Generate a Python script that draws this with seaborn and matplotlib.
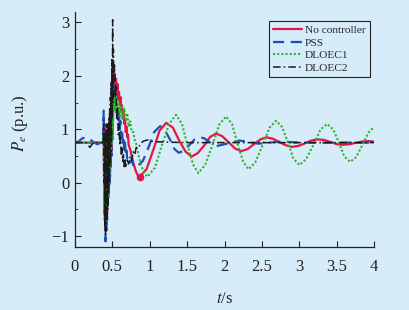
import numpy as np
import pandas as pd
import seaborn as sns
import matplotlib.pyplot as plt
from matplotlib.ticker import MultipleLocator

# ---- data (time in s, Pe in p.u.) ----
t_nc = [0, 0.38, 0.385, 0.39, 0.395, 0.40, 0.405, 0.41, 0.415, 0.42, 0.425, 0.43, 0.435, 0.44,
        0.445, 0.45, 0.455, 0.46, 0.465, 0.47, 0.475, 0.48, 0.485, 0.49, 0.495, 0.50, 0.505, 0.51,
        0.515, 0.52, 0.53, 0.54, 0.55, 0.56, 0.57, 0.58, 0.59, 0.60, 0.61, 0.62, 0.63, 0.64, 0.65,
        0.66, 0.67, 0.68, 0.69, 0.70, 0.71, 0.72, 0.74, 0.76, 0.78, 0.80, 0.82, 0.84, 0.87,
        0.96, 1.05, 1.13, 1.22, 1.31, 1.39, 1.48, 1.56, 1.64, 1.73, 1.81, 1.89, 1.97, 2.06, 2.14,
        2.22, 2.31, 2.39, 2.48, 2.56, 2.65, 2.73, 2.82, 2.90, 2.99, 3.08, 3.16, 3.25, 3.33, 3.42,
        3.50, 3.58, 3.67, 3.75, 3.84, 3.92, 4.0]
p_nc = [0.75, 0.75, 1.0, 0.1, 0.9, -0.6, 0.8, -0.9, 0.9, -0.8, 1.0, -0.6, 0.9, -0.4,
        1.0, -0.2, 1.1, 0.0, 1.2, 0.2, 1.3, 0.4, 1.5, 0.6, 1.7, 0.9, 2.0, 1.3,
        2.1, 1.8, 2.05, 1.75, 1.95, 1.65, 1.85, 1.55, 1.7, 1.45, 1.6, 1.35, 1.45, 1.2, 1.35,
        1.1, 1.2, 0.95, 1.05, 0.85, 0.9, 0.7, 0.62, 0.5, 0.38, 0.28, 0.2, 0.14, 0.11,
        0.26, 0.62, 0.97, 1.12, 1.03, 0.80, 0.58, 0.49, 0.55, 0.70, 0.86, 0.92, 0.87, 0.75, 0.64,
        0.59, 0.63, 0.72, 0.81, 0.85, 0.82, 0.76, 0.70, 0.67, 0.69, 0.74, 0.79, 0.81, 0.80, 0.76,
        0.72, 0.71, 0.72, 0.745, 0.77, 0.78, 0.77]

t_pss = [0, 0.05, 0.10, 0.15, 0.20, 0.25, 0.30, 0.35, 0.38, 0.385, 0.39, 0.395, 0.40, 0.405,
         0.41, 0.415, 0.42, 0.425, 0.43, 0.435, 0.44, 0.445, 0.45, 0.455, 0.46, 0.465, 0.47,
         0.475, 0.48, 0.485, 0.49, 0.495, 0.50, 0.505, 0.51, 0.515, 0.52, 0.53, 0.54, 0.55, 0.56,
         0.57, 0.58, 0.59, 0.60, 0.61, 0.62, 0.63, 0.64, 0.65, 0.66, 0.67, 0.68, 0.69, 0.70, 0.72,
         0.74, 0.76, 0.78, 0.80, 0.83, 0.91, 0.99, 1.06, 1.14, 1.20, 1.27, 1.33, 1.39, 1.46, 1.53,
         1.60, 1.67, 1.73, 1.79, 1.85, 1.91, 2.06, 2.20, 2.33, 2.45, 2.60, 2.75, 3.0, 3.5, 4.0]
p_pss = [0.75, 0.77, 0.83, 0.85, 0.81, 0.76, 0.72, 0.75, 0.75, 1.35, 0.3, 1.1, -0.7, 0.9,
         -1.1, 0.8, -0.9, 0.9, -0.7, 0.8, -0.5, 0.9, -0.3, 1.0, -0.1, 1.1, 0.1,
         1.2, 0.3, 1.4, 0.5, 1.6, 0.8, 1.9, 1.2, 1.85, 1.55, 1.75, 1.45, 1.6, 1.3,
         1.45, 1.15, 1.3, 1.0, 1.15, 0.85, 1.0, 0.75, 0.85, 0.6, 0.75, 0.5, 0.6, 0.45, 0.5,
         0.38, 0.42, 0.33, 0.35, 0.30, 0.41, 0.68, 0.95, 1.06, 0.99, 0.81, 0.63, 0.56, 0.60, 0.705,
         0.81, 0.85, 0.83, 0.77, 0.71, 0.69, 0.74, 0.79, 0.76, 0.73, 0.75, 0.77, 0.75, 0.75, 0.75]

t_d1 = [0, 0.38, 0.385, 0.39, 0.395, 0.40, 0.405, 0.41, 0.415, 0.42, 0.425, 0.43, 0.435, 0.44,
        0.445, 0.45, 0.455, 0.46, 0.465, 0.47, 0.475, 0.48, 0.485, 0.49, 0.495, 0.50, 0.505, 0.51,
        0.515, 0.52, 0.53, 0.54, 0.55, 0.56, 0.57, 0.58, 0.59, 0.60, 0.62, 0.64, 0.66, 0.68, 0.70,
        0.72, 0.74, 0.76, 0.78, 0.80, 0.82, 0.85, 0.88, 0.92, 0.97,
        1.07, 1.16, 1.26, 1.35, 1.43, 1.50, 1.58, 1.65, 1.74, 1.84, 1.93, 2.02, 2.10, 2.17, 2.25,
        2.32, 2.41, 2.51, 2.60, 2.69, 2.77, 2.85, 2.92, 3.00, 3.09, 3.19, 3.28, 3.37, 3.45, 3.53,
        3.60, 3.68, 3.76, 3.84, 3.92, 4.0]
p_d1 = [0.75, 0.75, 0.9, 0.2, 0.8, -0.4, 0.7, -0.7, 0.8, -0.6, 0.7, -0.5, 0.9, -0.3,
        1.0, -0.1, 1.1, 0.1, 1.2, 0.3, 1.3, 0.5, 1.4, 0.7, 1.5, 0.9, 1.6, 1.1,
        1.65, 1.35, 1.6, 1.35, 1.6, 1.35, 1.55, 1.3, 1.5, 1.25, 1.45, 1.2, 1.4, 1.15, 1.3,
        1.05, 1.15, 0.95, 0.95, 0.8, 0.72, 0.52, 0.35, 0.2, 0.11,
        0.28, 0.69, 1.10, 1.27, 1.11, 0.725, 0.34, 0.18, 0.33, 0.71, 1.09, 1.24, 1.10, 0.745, 0.39,
        0.25, 0.38, 0.705, 1.03, 1.16, 1.04, 0.745, 0.45, 0.33, 0.44, 0.715, 0.99, 1.10, 1.0, 0.745,
        0.49, 0.39, 0.48, 0.70, 0.93, 1.05]

t_d2 = [0, 0.15, 0.18, 0.20, 0.22, 0.25, 0.38, 0.385, 0.39, 0.395, 0.40, 0.405, 0.41, 0.415,
        0.42, 0.425, 0.43, 0.435, 0.44, 0.445, 0.45, 0.455, 0.46, 0.465, 0.47, 0.475, 0.48, 0.485,
        0.49, 0.495, 0.50, 0.505, 0.51, 0.515, 0.52, 0.53, 0.54, 0.55, 0.56, 0.57, 0.58, 0.59,
        0.60, 0.61, 0.62, 0.63, 0.64, 0.65, 0.66, 0.67, 0.68, 0.70, 0.72, 0.74, 0.76, 0.78, 0.80,
        0.82, 0.85, 0.88, 0.92, 0.97, 1.05, 1.2, 1.5, 2.0, 3.0, 4.0]
p_d2 = [0.75, 0.75, 0.70, 0.66, 0.70, 0.75, 0.75, 1.1, 0.0, 1.0, -0.8, 0.9, -1.0, 1.0,
        -0.9, 1.1, -0.7, 1.0, -0.5, 1.1, -0.2, 1.2, 0.0, 1.4, 0.3, 1.6, 0.5, 1.9,
        0.8, 2.3, 1.2, 3.05, 1.5, 2.5, 1.9, 2.2, 1.6, 1.8, 1.2, 1.4, 0.9, 1.1,
        0.7, 0.85, 0.5, 0.65, 0.4, 0.55, 0.3, 0.45, 0.28, 0.42, 0.35, 0.5, 0.42, 0.58, 0.52,
        0.66, 0.65, 0.74, 0.78, 0.8, 0.77, 0.76, 0.75, 0.75, 0.75, 0.75]

labels = ["No controller", "PSS", "DLOEC1", "DLOEC2"]
colors = ["#e3173f", "#1f4fb5", "#2cb52c", "#1a1a1a"]
styles = ["-", (0, (5, 3)), (0, (1, 1)), (0, (5, 2, 1, 2))]
widths = [1.6, 1.6, 1.5, 1.1]

bg = "#d6ecf8"
sns.set_theme(style="ticks", rc={"axes.facecolor": bg, "figure.facecolor": bg})
plt.rcParams["font.family"] = ["Liberation Serif", "DejaVu Serif"]
plt.rcParams["mathtext.fontset"] = "stix"

fig = plt.figure(figsize=(4.09, 3.10), dpi=100)
ax = fig.add_axes([0.183, 0.204, 0.732, 0.758])

series = [(t_nc, p_nc), (t_pss, p_pss), (t_d1, p_d1), (t_d2, p_d2)]
for (t, p), lab, c, ls, lw in zip(series, labels, colors, styles, widths):
    df = pd.DataFrame({"t": t, "p": p})
    sns.lineplot(data=df, x="t", y="p", ax=ax, color=c, linestyle=ls, linewidth=lw,
                 estimator=None, sort=False, label=lab)

# red blob at the first minimum of the no-controller curve
ax.plot(t_nc[56], p_nc[56], "o", color=colors[0], ms=4.5)

ax.set_xlim(0, 4)
ax.set_ylim(-1.2, 3.2)
ax.set_xticks([0, 0.5, 1, 1.5, 2, 2.5, 3, 3.5, 4])
ax.set_xticklabels(["0", "0.5", "1", "1.5", "2", "2.5", "3", "3.5", "4"])
ax.set_yticks([-1, 0, 1, 2, 3])
ax.set_yticklabels(["\u22121", "0", "1", "2", "3"])
ax.yaxis.set_minor_locator(MultipleLocator(0.5))
ax.tick_params(axis="both", which="major", direction="in", length=4, width=0.8,
               labelsize=12, colors="#222222")
ax.tick_params(axis="x", which="major", pad=9)
ax.tick_params(axis="y", which="major", pad=4)
ax.tick_params(axis="y", which="minor", direction="in", length=2.5, width=0.6)
for s in ["top", "right"]:
    ax.spines[s].set_visible(False)
for s in ["left", "bottom"]:
    ax.spines[s].set_color("#222222")
    ax.spines[s].set_linewidth(0.9)

ax.set_xlabel(r"$t$/s", fontsize=12, color="#222222")
ax.set_ylabel(r"$P_e$ (p.u.)", fontsize=12, color="#222222")
ax.xaxis.set_label_coords(0.5, -0.19)
ax.yaxis.set_label_coords(-0.15, 0.526)

leg = ax.legend(loc="upper right", bbox_to_anchor=(0.985, 0.96), fontsize=8.2,
                frameon=True, fancybox=False, edgecolor="#222222", facecolor=bg,
                framealpha=1, handlelength=2.5, handletextpad=0.3, labelspacing=0.22,
                borderpad=0.35, borderaxespad=0)
leg.get_frame().set_linewidth(0.8)

fig.savefig("out.png", dpi=100, facecolor=bg)
